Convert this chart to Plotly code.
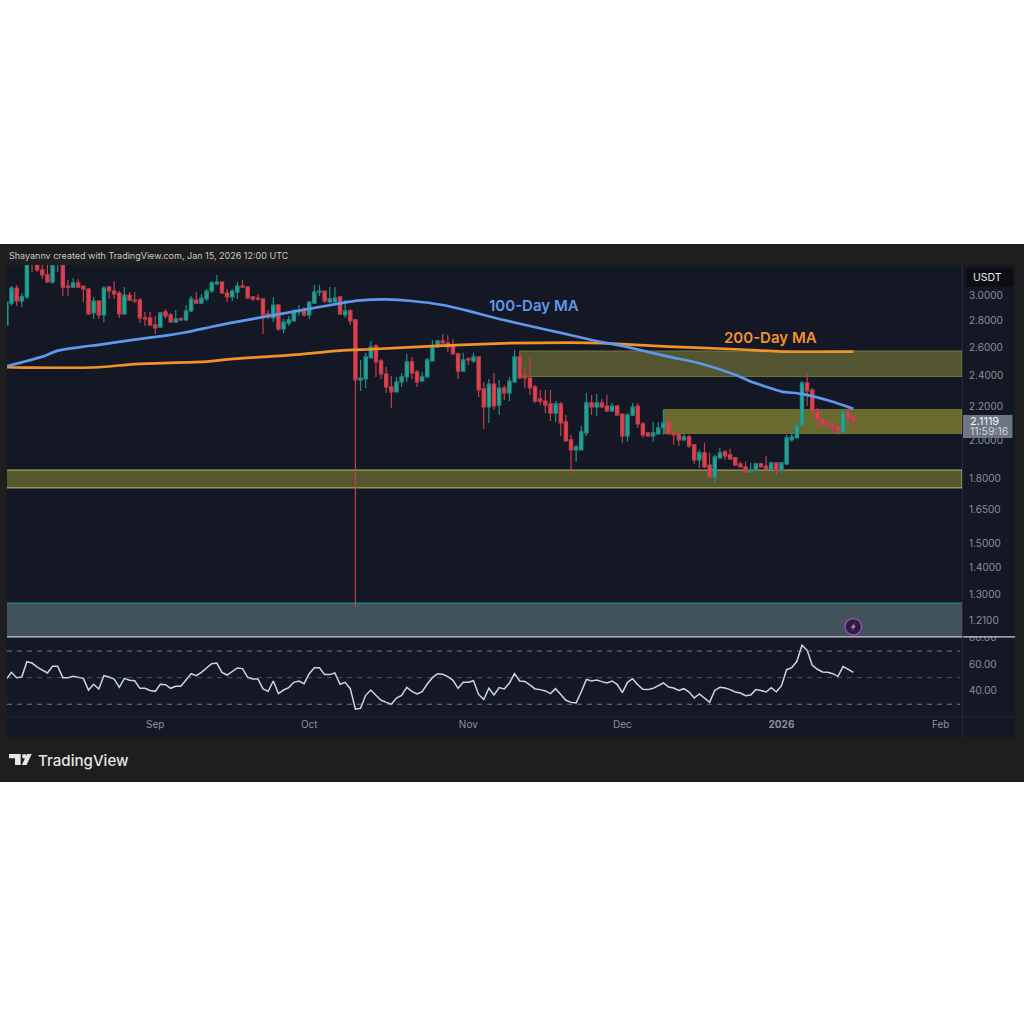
import pandas as pd
import plotly.graph_objects as go

# ---- daily candles, 3 Aug 2025 to 15 Jan 2026 ----
dates = pd.date_range("2025-08-03", periods=166, freq="D")

opens = [2.766,2.941,3.068,2.958,2.992,3.36,3.29,3.227,3.182,3.120,3.29,3.30,3.085,3.076,3.112,3.085,3.059,2.861,2.958,2.845,
3.076,3.042,3.025,2.853,3.008,2.966,2.966,2.821,2.821,2.766,2.750,2.869,2.845,2.789,2.813,2.805,2.877,2.966,2.941,2.975,
3.042,3.103,3.120,3.025,2.992,3.033,3.085,3.076,2.992,2.983,2.975,2.853,2.821,2.925,2.735,2.781,2.797,2.869,2.885,2.845,
2.941,3.033,3.042,2.950,2.950,2.992,2.845,2.877,2.805,2.371,2.378,2.522,2.608,2.501,2.411,2.325,2.293,2.358,2.391,2.494,
2.425,2.364,2.391,2.501,2.601,2.645,2.630,2.616,2.551,2.431,2.515,2.501,2.529,2.312,2.198,2.344,2.210,2.318,2.286,2.358,
2.529,2.398,2.384,2.325,2.248,2.235,2.217,2.161,2.217,2.108,2.005,1.949,1.949,2.044,2.223,2.198,2.223,2.204,2.174,2.204,
2.155,2.027,2.149,2.204,2.096,2.044,2.027,2.038,2.073,2.108,2.044,2.038,2.005,2.021,1.977,1.895,1.933,1.868,1.807,1.906,
1.938,1.922,1.906,1.874,1.858,1.832,1.842,1.874,1.863,1.847,1.879,1.842,1.874,2.005,2.016,2.090,2.351,2.305,2.168,2.125,
2.102,2.090,2.079,2.050,2.168,2.137]

highs = [2.950,3.085,3.094,3.025,3.33,3.38,3.31,3.29,3.30,3.30,3.34,3.32,3.138,3.155,3.147,3.085,3.068,2.992,2.966,3.085,
3.085,3.129,3.042,3.076,3.033,3.033,2.983,2.869,2.869,2.837,2.869,2.893,2.861,2.885,2.829,2.925,3.000,3.033,3.017,3.059,
3.129,3.182,3.129,3.059,3.059,3.120,3.138,3.085,3.000,3.017,2.975,2.885,2.992,2.933,2.813,2.837,2.893,2.925,2.909,2.958,
3.094,3.094,3.042,3.076,3.076,2.992,2.966,2.893,2.813,2.508,2.558,2.645,2.623,2.515,2.459,2.398,2.391,2.418,2.551,2.529,
2.438,2.425,2.522,2.652,2.652,2.697,2.690,2.660,2.558,2.558,2.529,2.558,2.529,2.358,2.378,2.418,2.371,2.338,2.391,2.580,
2.565,2.452,2.529,2.338,2.305,2.305,2.305,2.235,2.229,2.149,2.033,1.977,2.084,2.286,2.273,2.280,2.248,2.273,2.223,2.210,
2.161,2.161,2.223,2.223,2.108,2.044,2.108,2.108,2.180,2.108,2.050,2.044,2.038,2.033,1.983,1.949,1.988,1.933,1.922,1.960,
1.949,1.955,1.911,1.885,1.885,1.879,1.879,1.879,1.916,1.885,1.879,1.879,2.033,2.044,2.102,2.364,2.418,2.318,2.192,2.131,
2.102,2.102,2.084,2.180,2.192,2.143]

lows = [2.766,2.917,2.917,2.909,2.975,3.209,3.209,3.147,3.112,3.103,3.209,3.000,3.000,3.076,3.076,2.950,2.845,2.813,2.813,2.789,
2.975,2.975,2.821,2.845,2.958,2.941,2.781,2.758,2.758,2.697,2.750,2.813,2.781,2.781,2.797,2.797,2.869,2.933,2.933,2.958,
3.025,3.094,3.017,2.950,2.958,2.975,3.068,2.975,2.958,2.958,2.697,2.813,2.789,2.720,2.705,2.758,2.797,2.837,2.829,2.813,
2.941,3.000,2.941,2.941,2.950,2.845,2.821,2.766,1.258,2.299,2.318,2.522,2.391,2.378,2.286,2.192,2.293,2.325,2.358,2.378,
2.325,2.358,2.391,2.501,2.594,2.623,2.565,2.544,2.378,2.431,2.473,2.487,2.261,2.067,2.102,2.180,2.149,2.242,2.235,2.351,
2.378,2.318,2.273,2.223,2.210,2.161,2.114,2.108,2.027,1.994,1.822,1.885,1.949,2.027,2.149,2.143,2.192,2.168,2.168,2.149,
1.988,1.994,2.143,2.073,2.016,2.021,1.994,2.033,2.033,2.033,1.977,1.971,1.999,1.960,1.874,1.853,1.853,1.802,1.772,1.901,
1.895,1.895,1.863,1.858,1.827,1.827,1.837,1.858,1.842,1.842,1.817,1.827,1.868,1.994,2.016,2.084,2.204,2.161,2.073,2.079,
2.079,2.050,2.033,2.044,2.114,2.079]

closes = [2.950,3.068,2.958,2.992,3.30,3.29,3.227,3.182,3.120,3.267,3.31,3.076,3.076,3.112,3.076,3.059,2.853,2.958,2.845,3.068,
3.042,3.017,2.853,3.008,2.966,2.958,2.821,2.813,2.766,2.743,2.861,2.837,2.789,2.813,2.805,2.877,2.975,2.941,2.983,3.042,
3.112,3.120,3.025,2.992,3.042,3.085,3.076,2.983,2.975,2.975,2.845,2.829,2.925,2.735,2.789,2.805,2.869,2.877,2.845,2.950,
3.033,3.042,2.958,2.975,2.983,2.853,2.877,2.797,2.371,2.384,2.529,2.601,2.494,2.411,2.325,2.293,2.358,2.391,2.494,2.418,
2.358,2.391,2.508,2.601,2.645,2.630,2.601,2.551,2.431,2.508,2.508,2.529,2.305,2.198,2.344,2.204,2.318,2.286,2.364,2.529,
2.384,2.384,2.318,2.235,2.235,2.210,2.161,2.217,2.102,1.999,1.949,1.966,2.050,2.223,2.198,2.223,2.198,2.174,2.204,2.149,
2.027,2.149,2.198,2.096,2.033,2.027,2.044,2.073,2.102,2.038,2.033,2.005,2.021,1.971,1.895,1.933,1.858,1.807,1.911,1.933,
1.916,1.901,1.868,1.858,1.832,1.842,1.874,1.858,1.847,1.879,1.837,1.879,2.016,2.021,2.090,2.351,2.299,2.168,2.120,2.090,
2.084,2.073,2.050,2.168,2.131,2.1119]

# ---- moving averages, read at selected sessions ----
ma100_dates = ["2025-08-03","2025-08-06","2025-08-10","2025-08-13","2025-08-18","2025-08-21","2025-08-28","2025-09-03",
               "2025-09-07","2025-09-12","2025-09-16","2025-09-23","2025-09-29","2025-10-07","2025-10-11","2025-10-16",
               "2025-10-21","2025-10-27","2025-11-01","2025-11-07","2025-11-13","2025-11-19","2025-11-25","2025-12-01",
               "2025-12-03","2025-12-10","2025-12-16","2025-12-23","2025-12-26","2025-12-29","2026-01-01","2026-01-05",
               "2026-01-11","2026-01-15"]
ma100_values = [2.463,2.491,2.531,2.574,2.603,2.616,2.655,2.685,2.710,2.752,2.784,2.835,2.879,2.939,2.963,2.971,
                2.958,2.925,2.877,2.813,2.758,2.705,2.652,2.608,2.591,2.531,2.485,2.406,2.360,2.326,2.295,2.280,
                2.230,2.187]

ma200_dates = ["2025-08-03","2025-08-08","2025-08-21","2025-08-28","2025-09-11","2025-09-16","2025-09-26","2025-10-07",
               "2025-10-13","2025-10-27","2025-11-09","2025-11-21","2025-11-27","2025-12-10","2025-12-23","2026-01-01","2026-01-15"]
ma200_values = [2.457,2.454,2.457,2.479,2.496,2.515,2.538,2.574,2.584,2.610,2.628,2.632,2.628,2.603,2.584,2.567,2.567]

# ---- relative strength index, one value per session ----
rsi_values = [49,54,50,50.5,62,61,58,55.5,53.5,58.5,58.5,50,50,51,50.5,49.5,40.7,45,41.5,51.5,
50.5,49,42.7,49.5,48,47.7,42,42,40.4,39.7,45,44.7,42,43.5,43.5,48,53,51.5,54,57.3,
60.5,61,54,52,54.8,57.3,56.8,50.3,49,49,41.5,39.7,47.5,38,40.7,42.5,46.5,47.5,45.5,53,
57.5,57.5,52.3,52.3,53.5,45,46.5,41.7,26.3,26.9,36.7,40.7,36.7,33,31.4,30,34.7,36.7,42.7,39.7,
37.7,39.4,45.2,50,53,52.5,50.8,48,42,46.5,46.5,47.7,37.4,33.6,42,37,42.5,41.5,46,53,
47.5,47.2,44.5,41.5,41,40,38,41.7,37.4,33,31.4,31,39.4,48.7,47.5,48.2,47,46,47.5,45,
38.7,46.5,49.2,44.7,41.2,41,42,44,46,43,42.2,40.4,41.7,39.2,34.7,37.7,34.7,31.4,40.4,42.7,
42.2,41,39.2,38.4,36.4,37,41,40.4,39.2,42.5,39.4,44,56,57.5,62.3,74.4,70.6,59.3,56.3,54.3,
54,53,51,58.3,56.3,54]

# ---- axis labels ----
price_ticks = [3.0, 2.8, 2.6, 2.4, 2.2, 2.0, 1.8, 1.65, 1.5, 1.4, 1.3, 1.21]
price_labels = ["3.0000","2.8000","2.6000","2.4000","2.2000","2.0000","1.8000","1.6500","1.5000","1.4000","1.3000","1.2100"]
rsi_ticks = [80, 60, 40]
rsi_labels = ["80.00", "60.00", "40.00"]
rsi_bands = [70, 50, 30]
month_ticks = ["2025-09-01","2025-10-01","2025-11-01","2025-12-01","2026-01-01","2026-02-01"]
month_labels = ["Sep","Oct","Nov","Dec","<b>2026</b>","Feb"]

# ---- support and resistance zones: start date, upper price, lower price ----
zone_upper = ("2025-11-11", 2.572, 2.394)
zone_middle = ("2025-12-09", 2.183, 2.041)
zone_lower = ("2025-08-03", 1.842, 1.752)
zone_deep = ("2025-08-03", 1.269, 1.154)

last_price = "2.1119"
countdown = "11:59:16"
view_start = "2025-08-03 03:00"
view_end = "2026-02-05 04:00"

PANEL = "#1e1e1e"
PLOT_BG = "#141824"
AXIS_TEXT = "#8b8f99"
FONT = "Inter, Roboto, sans-serif"
UP = "#26a69a"
DOWN = "#ea3f4c"
UP_WICK = "#1f8f84"
DOWN_WICK = "#c23f4b"


def px(x):
    return x / 1024


def py(y):
    return 1 - y / 1024


def rect(x0, y0, x1, y1, fill, line=None, width=0, layer="below"):
    return dict(type="rect", xref="paper", yref="paper", x0=px(x0), x1=px(x1), y0=py(y0), y1=py(y1),
                fillcolor=fill, line=dict(color=line or "rgba(0,0,0,0)", width=width), layer=layer)


def paper_path(points, fill):
    d = "M" + " L".join(f"{px(a):.5f},{py(b):.5f}" for a, b in points) + " Z"
    return dict(type="path", xref="paper", yref="paper", path=d, fillcolor=fill, line=dict(width=0), layer="above")


def zone(spec, fill, line, width):
    return dict(type="rect", xref="x", yref="y", x0=spec[0], x1=view_end, y0=spec[2], y1=spec[1],
                fillcolor=fill, line=dict(color=line, width=width), layer="below")


def label(x, y, text, size, color, xanchor="left", weight=None):
    return dict(xref="paper", yref="paper", x=px(x), y=py(y), text=text, showarrow=False, xanchor=xanchor,
                yanchor="middle", font=dict(family=FONT, size=size, color=color, weight=weight),
                align="left", borderpad=0)


fig = go.Figure()
fig.add_trace(go.Candlestick(
    x=dates, open=opens, high=highs, low=lows, close=closes, xaxis="x", yaxis="y",
    increasing=dict(line=dict(color=UP_WICK, width=1.2), fillcolor=UP),
    decreasing=dict(line=dict(color=DOWN_WICK, width=1.2), fillcolor=DOWN),
    whiskerwidth=0, showlegend=False, hoverinfo="skip"))
fig.add_trace(go.Scatter(x=ma200_dates, y=ma200_values, mode="lines", xaxis="x", yaxis="y",
                         line=dict(color="#f2922a", width=2.7, shape="spline", smoothing=0.6),
                         showlegend=False, hoverinfo="skip"))
fig.add_trace(go.Scatter(x=ma100_dates, y=ma100_values, mode="lines", xaxis="x", yaxis="y",
                         line=dict(color="#5e98ea", width=2.7, shape="spline", smoothing=0.6),
                         showlegend=False, hoverinfo="skip"))
fig.add_trace(go.Scatter(x=dates, y=rsi_values, mode="lines", xaxis="x2", yaxis="y2",
                         line=dict(color="#c7d5e6", width=1.5), showlegend=False, hoverinfo="skip"))

shapes = [
    rect(0, 244, 1024, 782, PANEL),
    rect(7, 265, 1015, 737, PLOT_BG),
    zone(zone_upper, "rgba(198,190,70,0.36)", "rgba(190,185,90,0.55)", 0.8),
    zone(zone_middle, "rgba(205,200,60,0.47)", "rgba(190,185,90,0.5)", 0.8),
    zone(zone_lower, "rgba(198,195,65,0.37)", "rgba(205,205,105,0.85)", 1),
    zone(zone_deep, "rgba(130,165,170,0.42)", "rgba(40,140,150,0)", 0),
    rect(7, 602.4, 962, 603.8, "#27858f", layer="above"),
    # covers the upper half of the clipped top RSI label
    rect(962.5, 626, 1015, 636, PLOT_BG, layer="above"),
    rect(7, 636.2, 1015, 637.6, "#c8ccd2", layer="above"),
    rect(962, 265, 962.8, 737, "#2a2e39", layer="above"),
    rect(7, 716.4, 1015, 717.2, "#242835", layer="above"),
    rect(966, 268, 1013, 287, "#0d0e12", layer="above"),
    rect(963, 415, 1012.5, 438, "#6e7583", layer="above"),
    # lightning badge
    dict(type="circle", xref="paper", yref="paper", x0=px(845), x1=px(861.6), y0=py(618.5), y1=py(635),
         fillcolor="#2a1f3c", line=dict(color="#a14dc0", width=1.4), layer="above"),
    paper_path([(855.2, 622.5), (850.6, 627.6), (853, 627.6), (851.5, 631), (856, 625.8), (853.6, 625.8)], "#c77bda"),
    # TradingView mark
    paper_path([(9, 754), (20.7, 754), (20.7, 765), (15, 765), (15, 758.3), (9, 758.3)], "#e6e6e6"),
    paper_path([(27, 754), (31.7, 754), (26.6, 765), (21.8, 765)], "#e6e6e6"),
    dict(type="circle", xref="paper", yref="paper", x0=px(22), x1=px(26.4), y0=py(754), y1=py(758.4),
         fillcolor="#e6e6e6", line=dict(width=0), layer="above"),
]
for level, opacity in zip(rsi_bands, (0.75, 0.45, 0.75)):
    shapes.append(dict(type="line", xref="paper", yref="y2", x0=px(7), x1=px(960), y0=level, y1=level,
                       line=dict(color=f"rgba(150,156,168,{opacity})", width=1, dash="5px 5px"), layer="above"))

annotations = [
    label(8, 255.5, "Shayannv created with TradingView.com, Jan 15, 2026 12:00 UTC", 9, "#c6c8cc"),
    label(488, 305, "100-Day MA", 15, "#5e98ea", weight=600),
    label(723, 337, "200-Day MA", 15, "#f2922a", weight=600),
    label(972, 277.5, "USDT", 10.5, "#e8e8ea"),
    label(969, 421, last_price, 11, "#f2f3f5"),
    label(969, 431.5, countdown, 10.5, "#cfd2d8"),
    label(37, 760, "TradingView", 15.1, "#e4e4e4", weight=500),
]

fig.update_layout(
    width=1024, height=1024, autosize=False,
    margin=dict(l=0, r=0, t=0, b=0, pad=0, autoexpand=False),
    paper_bgcolor="#ffffff", plot_bgcolor="rgba(0,0,0,0)",
    font=dict(family=FONT), boxgap=0.1,
    shapes=shapes, annotations=annotations, hovermode=False,
    xaxis=dict(domain=[px(7), px(962)], range=[view_start, view_end], anchor="y", showticklabels=False,
               showgrid=False, zeroline=False, rangeslider=dict(visible=False), ticks=""),
    xaxis2=dict(domain=[px(7), px(962)], range=[view_start, view_end], anchor="y2", tickmode="array",
                tickvals=month_ticks, ticktext=month_labels, showgrid=False, zeroline=False, ticks="",
                tickfont=dict(family=FONT, size=10, color=AXIS_TEXT)),
    yaxis=dict(domain=[py(637), py(265)], type="log", range=[0.06211, 0.51482], side="right", anchor="x",
               tickmode="array", tickvals=price_ticks, ticktext=price_labels, showgrid=False, zeroline=False,
               ticks="outside", ticklen=4, tickcolor="rgba(0,0,0,0)",
               tickfont=dict(family=FONT, size=10, color=AXIS_TEXT)),
    yaxis2=dict(domain=[py(717), py(637)], range=[20.4, 80.6], side="right", anchor="x2",
                tickmode="array", tickvals=rsi_ticks, ticktext=rsi_labels, showgrid=False, zeroline=False,
                ticks="outside", ticklen=4, tickcolor="rgba(0,0,0,0)",
                tickfont=dict(family=FONT, size=10, color=AXIS_TEXT)),
)

fig.write_html("out.html", config=dict(displayModeBar=False))
